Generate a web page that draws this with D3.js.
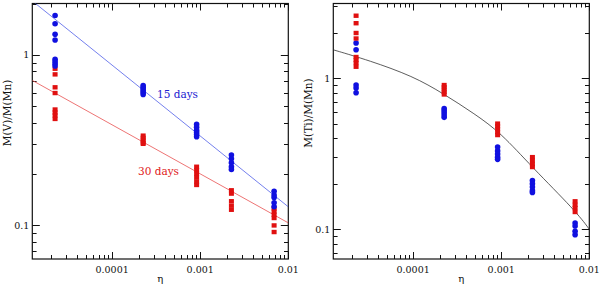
<!DOCTYPE html>
<html>
<head>
<meta charset="utf-8">
<script src="https://cdn.jsdelivr.net/npm/d3@7"></script>
<style>
  body { margin: 0; background: #fff; }
  svg { display: block; }
  text { font-family: "DejaVu Serif", serif; fill: #111; }
</style>
</head>
<body>
<svg id="chart" width="600" height="284"></svg>
<script>
// eta values of the five runs (shared by both panels)
const etaValues = [2.25e-5, 2.25e-4, 9.1e-4, 2.26e-3, 6.9e-3];

// M(V)/M(Mn), left panel
const vBlue = [
  [1.70, 1.52, 1.32, 1.22, 0.942, 0.913, 0.886, 0.86],
  [0.66, 0.645, 0.63, 0.615, 0.60, 0.585],
  [0.39, 0.375, 0.36, 0.35, 0.34, 0.33],
  [0.258, 0.245, 0.232, 0.22, 0.212],
  [0.158, 0.15, 0.145, 0.135, 0.128]
];
const vRed = [
  [0.828, 0.767, 0.644, 0.596, 0.477, 0.458, 0.44, 0.42],
  [0.335, 0.325, 0.315, 0.305, 0.30],
  [0.22, 0.21, 0.20, 0.19, 0.18, 0.172],
  [0.16, 0.153, 0.138, 0.13, 0.123],
  [0.125, 0.12, 0.115, 0.11, 0.0995, 0.091]
];
// fitted lines (end points)
const vFit15 = [[1.24e-5, 2.07], [0.01, 0.128]];
const vFit30 = [[1.24e-5, 0.707], [0.01, 0.103]];

// M(Ti)/M(Mn), right panel
const tiBlue = [
  [1.71, 1.54, 0.90, 0.86, 0.80],
  [0.63, 0.61, 0.59, 0.57, 0.55],
  [0.35, 0.33, 0.315, 0.30, 0.29],
  [0.21, 0.20, 0.19, 0.18, 0.175],
  [0.11, 0.105, 0.097, 0.092]
];
const tiRed = [
  [2.59, 2.31, 1.99, 1.83, 1.38, 1.32, 1.26, 1.19],
  [0.90, 0.87, 0.84, 0.81, 0.78],
  [0.50, 0.48, 0.46, 0.44, 0.42],
  [0.30, 0.285, 0.27, 0.258],
  [0.153, 0.145, 0.138, 0.13]
];
// curve read at a few points
const tiCurve = [
  [1.24e-5, 1.54], [3.16e-5, 1.31], [1e-4, 1.03], [2.2e-4, 0.79],
  [5e-4, 0.58], [1e-3, 0.432], [2.2e-3, 0.26], [7e-3, 0.132], [1e-2, 0.1]
];

const xTickLabels = ["0.0001", "0.001", "0.01"];
const yTickLabels = ["0.1", "1"];

const svg = d3.select('#chart');
const blue = '#1010e0';
const red = '#e01010';

function flatten(groups) {
  const out = [];
  groups.forEach((vals, i) => vals.forEach(v => out.push([etaValues[i], v])));
  return out;
}

function drawPanel(p) {
  const x = d3.scaleLog().domain([1.24e-5, 0.01]).range([p.left, p.left + 256]);
  const y = d3.scaleLog().domain(p.yDomain).range([259, 3.5]);
  const g = svg.append('g');

  const clipId = 'clip' + p.id;
  svg.append('clipPath').attr('id', clipId)
    .append('rect').attr('x', p.left).attr('y', 3.5).attr('width', 256).attr('height', 255.5);

  const isMajor = v => Math.abs(Math.log10(v) - Math.round(Math.log10(v))) < 1e-6;

  // ticks on all four sides, pointing inward
  const ticks = g.append('g').attr('stroke', '#111').attr('stroke-width', 1);
  x.ticks().forEach(v => {
    const len = isMajor(v) ? 7 : 4;
    const px = Math.round(x(v)) + 0.5;
    ticks.append('line').attr('x1', px).attr('x2', px).attr('y1', 259).attr('y2', 259 - len);
    ticks.append('line').attr('x1', px).attr('x2', px).attr('y1', 3.5).attr('y2', 3.5 + len);
  });
  y.ticks().forEach(v => {
    const len = isMajor(v) ? 7.5 : 4.3;
    const py = Math.round(y(v)) + 0.5;
    ticks.append('line').attr('x1', p.left).attr('x2', p.left + len).attr('y1', py).attr('y2', py);
    ticks.append('line').attr('x1', p.left + 256).attr('x2', p.left + 256 - len).attr('y1', py).attr('y2', py);
  });

  g.append('rect')
    .attr('x', p.left).attr('y', 3.5).attr('width', 256).attr('height', 255.5)
    .attr('fill', 'none').attr('stroke', '#111').attr('stroke-width', 1.2);

  // tick labels
  xTickLabels.forEach(t => {
    g.append('text').attr('x', x(+t)).attr('y', 273)
      .attr('text-anchor', 'middle').attr('font-size', 9.5).text(t);
  });
  yTickLabels.forEach(t => {
    g.append('text').attr('x', p.left - 3).attr('y', y(+t) + 3.5)
      .attr('text-anchor', 'end').attr('font-size', 9.5).text(t);
  });

  g.append('text').attr('x', p.left + 128).attr('y', 282)
    .attr('text-anchor', 'middle').attr('font-size', 10).text('η');

  g.append('text')
    .attr('transform', `translate(${p.left - 21},113) rotate(-90)`)
    .attr('text-anchor', 'middle').attr('font-size', 10.5).text(p.yLabel);

  const lines = g.append('g').attr('clip-path', `url(#${clipId})`);
  p.lines.forEach(l => {
    const line = d3.line().x(d => x(d[0])).y(d => y(d[1])).curve(l.curve || d3.curveLinear);
    lines.append('path').datum(l.data)
      .attr('d', line)
      .attr('fill', 'none').attr('stroke', l.color).attr('stroke-width', 0.8);
  });

  const pts = g.append('g');
  p.points.forEach(s => {
    const data = flatten(s.data);
    if (s.shape === 'circle') {
      pts.selectAll(null).data(data).enter().append('circle')
        .attr('cx', d => x(d[0])).attr('cy', d => y(d[1])).attr('r', 2.8)
        .attr('fill', s.color);
    } else {
      pts.selectAll(null).data(data).enter().append('rect')
        .attr('x', d => x(d[0]) - 2.5).attr('y', d => y(d[1]) - 2.2)
        .attr('width', 5).attr('height', 4.4)
        .attr('fill', s.color);
    }
  });

  (p.notes || []).forEach(n => {
    g.append('text').attr('x', n.x).attr('y', n.y).attr('font-size', 10.5)
      .style('fill', n.color).text(n.text);
  });
}

drawPanel({
  id: 'L', left: 32.3, yDomain: [0.0632, 2.0], yLabel: 'M(V)/M(Mn)',
  lines: [
    { data: vFit15, color: '#5060e8' },
    { data: vFit30, color: '#e85050' }
  ],
  points: [
    { data: vRed, color: red, shape: 'square' },
    { data: vBlue, color: blue, shape: 'circle' }
  ],
  notes: [
    { text: '15 days', x: 157, y: 98, color: '#2020d0' },
    { text: '30 days', x: 138, y: 175, color: '#e02020' }
  ]
});

drawPanel({
  id: 'R', left: 333.3, yDomain: [0.0635, 3.12], yLabel: 'M(Ti)/M(Mn)',
  lines: [
    { data: tiCurve, color: '#333', curve: d3.curveBasis }
  ],
  points: [
    { data: tiBlue, color: blue, shape: 'circle' },
    { data: tiRed, color: red, shape: 'square' }
  ]
});
</script>
</body>
</html>
